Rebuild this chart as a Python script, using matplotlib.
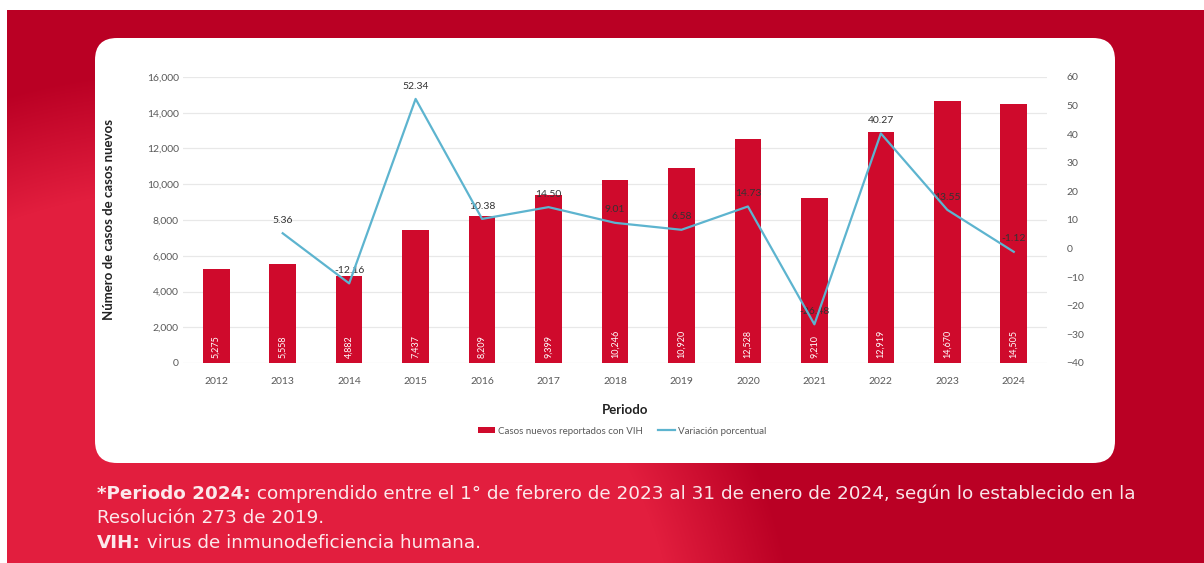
import numpy as np
import matplotlib
matplotlib.use('Agg')
import matplotlib.pyplot as plt
from matplotlib.patches import FancyBboxPatch

plt.rcParams['font.family'] = ['Lato', 'DejaVu Sans']

years = ['2012', '2013', '2014', '2015', '2016', '2017', '2018',
         '2019', '2020', '2021', '2022', '2023', '2024']
cases = [5275, 5558, 4882, 7437, 8209, 9399, 10246,
         10920, 12528, 9210, 12919, 14670, 14505]
variation = [None, 5.36, -12.16, 52.34, 10.38, 14.50, 9.01,
             6.58, 14.73, -26.48, 40.27, 13.55, -1.12]

bar_color = '#CF0A2C'
line_color = '#5DB4CF'
tick_gray = '#595959'

W, H = 1204, 563
fig = plt.figure(figsize=(W / 100, H / 100), dpi=100)

# red background with a lighter arc bottom-left
bg = fig.add_axes([0, 0, 1, 1], zorder=-10)
yy, xx = np.mgrid[0:H, 0:W]
d = np.sqrt((xx - 180) ** 2 + (yy - 690) ** 2)
t = np.clip((560 - d) / 120 + 0.5, 0, 1)[..., None]
dark = np.array([186, 0, 36]) / 255
light = np.array([226, 30, 62]) / 255
img = dark * (1 - t) + light * t
img[:10, :, :] = 1
img[:, :7, :] = 1
bg.imshow(img, extent=[0, W, H, 0], aspect='auto')
bg.set_xlim(0, W)
bg.set_ylim(H, 0)
bg.axis('off')

# white rounded card
card = FancyBboxPatch((95, 38), 1020, 425, boxstyle='round,pad=0,rounding_size=22',
                      facecolor='white', edgecolor='none')
bg.add_patch(card)

# footnotes
fs = 13.2
ff = ['DejaVu Sans']
t1 = bg.text(97, 494, '*Periodo 2024:', color='white', fontsize=fs, family=ff,
             fontweight='bold', va='center', ha='left', alpha=0.9)
bg.annotate(' comprendido entre el 1° de febrero de 2023 al 31 de enero de 2024, '
            'según lo establecido en la', xy=(1, 0), xycoords=t1, family=ff,
            va='bottom', ha='left', color='white', fontsize=fs, alpha=0.9)
bg.text(97, 518, 'Resolución 273 de 2019.', color='white', fontsize=fs, family=ff,
        va='center', ha='left', alpha=0.9)
t3 = bg.text(97, 543, 'VIH:', color='white', fontsize=fs, fontweight='bold',
             family=ff, va='center', ha='left', alpha=0.9)
bg.annotate(' virus de inmunodeficiencia humana.', xy=(1, 0), xycoords=t3,
            family=ff, va='bottom', ha='left', color='white', fontsize=fs, alpha=0.9)

# chart
ax = fig.add_axes([183 / W, 1 - 363 / H, (1047 - 183) / W, (363 - 77) / H])
x = np.arange(len(years))
bars = ax.bar(x, cases, width=0.4, color=bar_color, zorder=2,
              label='Casos nuevos reportados con VIH')
for xi, v in zip(x, cases):
    ax.text(xi, 300, f'{v:,}', rotation=90, ha='center', va='bottom',
            color='white', fontsize=6.5, zorder=3)
ax.set_ylim(0, 16000)
ax.set_xlim(-0.5, len(years) - 0.5)
ax.set_yticks(np.arange(0, 16001, 2000))
ax.set_yticklabels([f'{v:,}' for v in range(0, 16001, 2000)])
ax.set_xticks(x)
ax.set_xticklabels(years)
ax.grid(axis='y', color='#E8E8E8', linewidth=0.9, zorder=0)
ax.set_axisbelow(True)
for s in ax.spines.values():
    s.set_visible(False)
ax.tick_params(axis='both', length=0, labelsize=7.5, colors=tick_gray)
ax.tick_params(axis='x', pad=10)
ax.tick_params(axis='y', pad=3)
ax.set_ylabel('Número de casos de casos nuevos', fontsize=9.5,
              fontweight='bold', color='#222222')
ax.yaxis.set_label_coords(-0.079, 0.5)

ax2 = ax.twinx()
vx = [xi for xi, v in zip(x, variation) if v is not None]
vy = [v for v in variation if v is not None]
ln, = ax2.plot(vx, vy, color=line_color, linewidth=1.6,
               label='Variación porcentual', zorder=4)
for xi, v in zip(vx, vy):
    ax2.annotate(f'{v:.2f}', (xi, v), xytext=(0, 6), textcoords='offset points',
                 ha='center', va='bottom', fontsize=7.5, color='#333333')
ax2.set_ylim(-40, 60)
ax2.set_yticks(np.arange(-40, 61, 10))
for s in ax2.spines.values():
    s.set_visible(False)
ax2.tick_params(axis='y', length=0, labelsize=7.5, colors=tick_gray, pad=14)

fig.text(625 / W, 1 - 410 / H, 'Periodo', ha='center', va='center',
         fontsize=9.5, fontweight='bold', color='#222222')
fig.legend(handles=[bars, ln], loc='center', bbox_to_anchor=(622 / W, 1 - 431 / H),
           ncol=2, frameon=False, fontsize=7, labelcolor=tick_gray,
           handlelength=1.8, handleheight=0.45, handletextpad=0.3, columnspacing=1.5)

fig.savefig('out.png', dpi=100)
